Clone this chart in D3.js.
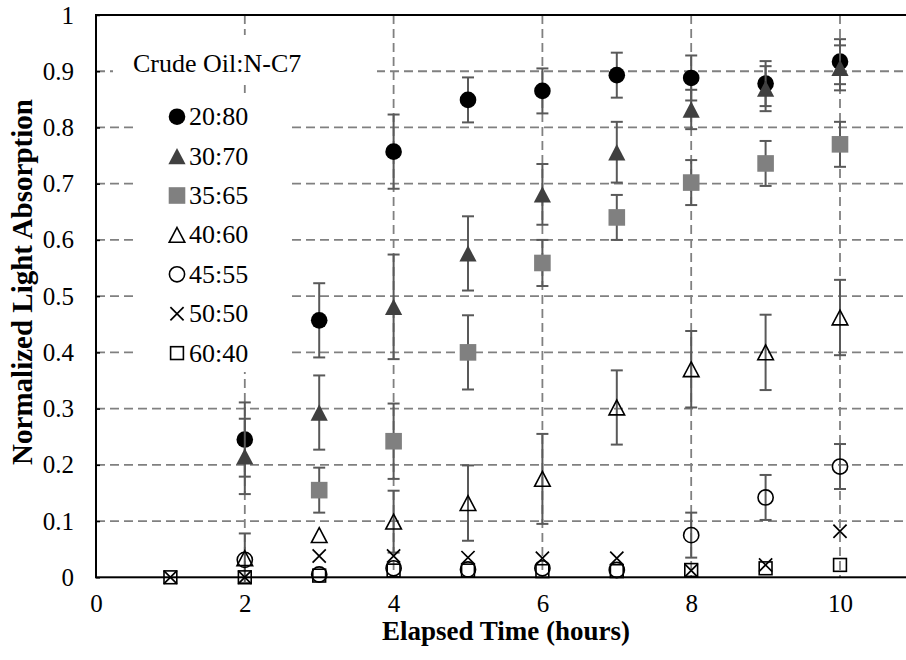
<!DOCTYPE html>
<html>
<head>
<meta charset="utf-8">
<script src="https://cdn.jsdelivr.net/npm/d3@7"></script>
<style>
  html, body { margin: 0; padding: 0; background: #fff; }
  svg { display: block; font-family: "Liberation Serif", "Times New Roman", serif; }
</style>
</head>
<body>
<svg id="chart" width="906" height="660"></svg>
<script>
// Elapsed time (hours) at which each sample was read
const hours = [1, 2, 3, 4, 5, 6, 7, 8, 9, 10];

// Series names (crude oil : n-heptane ratio)
const seriesNames = ["20:80", "30:70", "35:65", "40:60", "45:55", "50:50", "60:40"];

// Normalized light absorption per series (null = no reading)
const s2080 = [null, 0.245, 0.457, 0.757, 0.849, 0.865, 0.893, 0.888, 0.878, 0.917];
const s3070 = [null, 0.215, 0.293, 0.481, 0.576, 0.681, 0.756, 0.832, 0.869, 0.906];
const s3565 = [null, null, 0.155, 0.242, 0.400, 0.559, 0.640, 0.702, 0.736, 0.770];
const s4060 = [null, 0.034, 0.075, 0.099, 0.132, 0.175, 0.302, 0.370, 0.400, 0.462];
const s4555 = [null, 0.031, 0.005, 0.016, 0.014, 0.016, 0.013, 0.075, 0.142, 0.197];
const s5050 = [0, 0, 0.038, 0.038, 0.035, 0.034, 0.034, 0.012, 0.022, 0.082];
const s6040 = [0, 0, 0.003, 0.012, 0.012, 0.011, 0.011, 0.013, 0.016, 0.022];

// Error bar half-widths (± value)
const e2080 = [0, 0.066, 0.066, 0.066, 0.040, 0.040, 0.040, 0.040, 0.040, 0.040];
const e3070 = [0, 0.067, 0.066, 0.093, 0.066, 0.054, 0.054, 0.035, 0.040, 0.040];
const e3565 = [0, 0, 0.040, 0.067, 0.066, 0.041, 0.040, 0.040, 0.040, 0.040];
const e4060 = [0, 0.044, 0, 0.055, 0.067, 0.080, 0.066, 0.068, 0.067, 0.067];
const e4555 = [0, 0, 0, 0, 0, 0, 0, 0.040, 0.040, 0.040];
const e5050 = [0, 0, 0, 0, 0, 0, 0, 0, 0, 0];
const e6040 = [0, 0, 0, 0, 0, 0, 0, 0, 0, 0];

// Axis ticks
const xTicks = [0, 2, 4, 6, 8, 10];
const xTickLabels = ["0", "2", "4", "6", "8", "10"];
const yTicks = [0, 0.1, 0.2, 0.3, 0.4, 0.5, 0.6, 0.7, 0.8, 0.9, 1];
const yTickLabels = ["0", "0.1", "0.2", "0.3", "0.4", "0.5", "0.6", "0.7", "0.8", "0.9", "1"];

const legendTitle = "Crude Oil:N-C7";
const xTitle = "Elapsed Time (hours)";
const yTitle = "Normalized Light Absorption";

// Marker styling per series
const styles = [
  { shape: "circle",   fill: "#000000", stroke: "none" },
  { shape: "triangle", fill: "#404040", stroke: "none" },
  { shape: "square",   fill: "#808080", stroke: "none" },
  { shape: "otriangle", fill: "none", stroke: "#000000" },
  { shape: "ocircle",  fill: "none", stroke: "#000000" },
  { shape: "cross",    fill: "none", stroke: "#000000" },
  { shape: "osquare",  fill: "none", stroke: "#000000" }
];

const values = [s2080, s3070, s3565, s4060, s4555, s5050, s6040];
const errors = [e2080, e3070, e3565, e4060, e4555, e5050, e6040];

const series = seriesNames.map((name, i) => ({
  name,
  style: styles[i],
  points: hours.map((h, j) => ({ x: h, y: values[i][j], e: errors[i][j] }))
                .filter(p => p.y !== null)
}));

const svg = d3.select("#chart");
const margin = { left: 96, top: 15, bottom: 577.3 };

const x = d3.scaleLinear().domain([0, 11]).range([margin.left, margin.left + 74.4 * 11]);
const y = d3.scaleLinear().domain([0, 1]).range([margin.bottom, margin.top]);

// Gridlines
const gridColor = "#808080";
const grid = svg.append("g").attr("class", "grid");
grid.selectAll("line.h").data(yTicks.slice(1, -1)).join("line")
  .attr("class", "h")
  .attr("x1", x(0)).attr("x2", x(11))
  .attr("y1", d => y(d)).attr("y2", d => y(d))
  .attr("stroke", gridColor).attr("stroke-width", 1.8)
  .attr("stroke-dasharray", "9,5");
grid.selectAll("line.v").data(xTicks.slice(1)).join("line")
  .attr("class", "v")
  .attr("x1", d => x(d)).attr("x2", d => x(d))
  .attr("y1", y(1)).attr("y2", y(0))
  .attr("stroke", gridColor).attr("stroke-width", 1.8)
  .attr("stroke-dasharray", "9,5");

// Legend backgrounds sit above the gridlines
svg.append("rect").attr("x", 113).attr("y", 35).attr("width", 264).attr("height", 50).attr("fill", "#fff");
svg.append("rect").attr("x", 133).attr("y", 93).attr("width", 159).attr("height", 279).attr("fill", "#fff");

// Plot border (top, left, bottom; right edge runs past the canvas)
svg.append("rect")
  .attr("x", x(0)).attr("y", y(1))
  .attr("width", x(11) - x(0)).attr("height", y(0) - y(1))
  .attr("fill", "none").attr("stroke", "#000").attr("stroke-width", 2);

// Axes
const yAxis = d3.axisLeft(y)
  .tickValues(yTicks)
  .tickFormat((d, i) => yTickLabels[i])
  .tickSizeInner(-4).tickSizeOuter(0).tickPadding(22);
const yAxisG = svg.append("g").attr("transform", `translate(${x(0)},0)`).call(yAxis);
yAxisG.attr("font-family", null).attr("font-size", null);
yAxisG.select(".domain").remove();
yAxisG.selectAll(".tick line").attr("stroke", "#000").attr("stroke-width", 1.5);
yAxisG.selectAll(".tick text").attr("font-size", 25).attr("fill", "#000");

const xAxis = d3.axisBottom(x)
  .tickValues(xTicks)
  .tickFormat((d, i) => xTickLabels[i])
  .tickSizeInner(0).tickSizeOuter(0).tickPadding(17);
const xAxisG = svg.append("g").attr("transform", `translate(0,${y(0)})`).call(xAxis);
xAxisG.attr("font-family", null).attr("font-size", null);
xAxisG.select(".domain").remove();
xAxisG.selectAll(".tick text").attr("font-size", 25).attr("fill", "#000");

// Axis titles
svg.append("text")
  .attr("x", 506).attr("y", 640)
  .attr("text-anchor", "middle")
  .attr("font-weight", "bold").attr("font-size", 27)
  .text(xTitle);
svg.append("text")
  .attr("transform", `translate(32,${282}) rotate(-90)`)
  .attr("text-anchor", "middle")
  .attr("font-weight", "bold").attr("font-size", 29)
  .text(yTitle);

// Marker drawing
function drawMarker(g, style) {
  const s = style;
  switch (s.shape) {
    case "circle":
      g.append("circle").attr("r", 8.3).attr("fill", s.fill);
      break;
    case "ocircle":
      g.append("circle").attr("r", 7.6).attr("fill", "none").attr("stroke", s.stroke).attr("stroke-width", 1.6);
      break;
    case "square":
      g.append("rect").attr("x", -8.3).attr("y", -8.3).attr("width", 16.6).attr("height", 16.6).attr("fill", s.fill);
      break;
    case "osquare":
      g.append("rect").attr("x", -6.4).attr("y", -6.4).attr("width", 12.8).attr("height", 12.8)
        .attr("fill", "none").attr("stroke", s.stroke).attr("stroke-width", 1.6);
      break;
    case "triangle":
      g.append("path").attr("d", "M0,-8.2L8.6,8.2L-8.6,8.2Z").attr("fill", s.fill);
      break;
    case "otriangle":
      g.append("path").attr("d", "M0,-7.4L7.8,7.4L-7.8,7.4Z")
        .attr("fill", "none").attr("stroke", s.stroke).attr("stroke-width", 1.6).attr("stroke-linejoin", "miter");
      break;
    case "cross":
      g.append("path").attr("d", "M-6.6,-6.6L6.6,6.6M-6.6,6.6L6.6,-6.6")
        .attr("fill", "none").attr("stroke", s.stroke).attr("stroke-width", 1.7);
      break;
  }
}

// Series: error bars then markers
const errColor = "#595959";
const capHalf = 6;
series.forEach(sr => {
  const g = svg.append("g").attr("class", "series");
  const withErr = sr.points.filter(p => p.e > 0);
  const eb = g.selectAll("g.err").data(withErr).join("g").attr("class", "err")
    .attr("stroke", errColor).attr("stroke-width", 2);
  eb.append("line")
    .attr("x1", d => x(d.x)).attr("x2", d => x(d.x))
    .attr("y1", d => y(d.y + d.e)).attr("y2", d => y(d.y - d.e));
  eb.append("line")
    .attr("x1", d => x(d.x) - capHalf).attr("x2", d => x(d.x) + capHalf)
    .attr("y1", d => y(d.y + d.e)).attr("y2", d => y(d.y + d.e));
  eb.append("line")
    .attr("x1", d => x(d.x) - capHalf).attr("x2", d => x(d.x) + capHalf)
    .attr("y1", d => y(d.y - d.e)).attr("y2", d => y(d.y - d.e));

  g.selectAll("g.pt").data(sr.points).join("g").attr("class", "pt")
    .attr("transform", d => `translate(${x(d.x)},${y(d.y)})`)
    .each(function () { drawMarker(d3.select(this), sr.style); });
});

// Legend
svg.append("text")
  .attr("x", 133).attr("y", 72)
  .attr("font-size", 26)
  .text(legendTitle);
const legend = svg.append("g").attr("class", "legend");
const rowStep = 39.4;
series.forEach((sr, i) => {
  const cy = 116.7 + i * rowStep;
  const row = legend.append("g");
  drawMarker(row.append("g").attr("transform", `translate(177,${cy})`), sr.style);
  row.append("text")
    .attr("x", 189).attr("y", cy + 8.5)
    .attr("font-size", 26)
    .text(sr.name);
});
</script>
</body>
</html>
